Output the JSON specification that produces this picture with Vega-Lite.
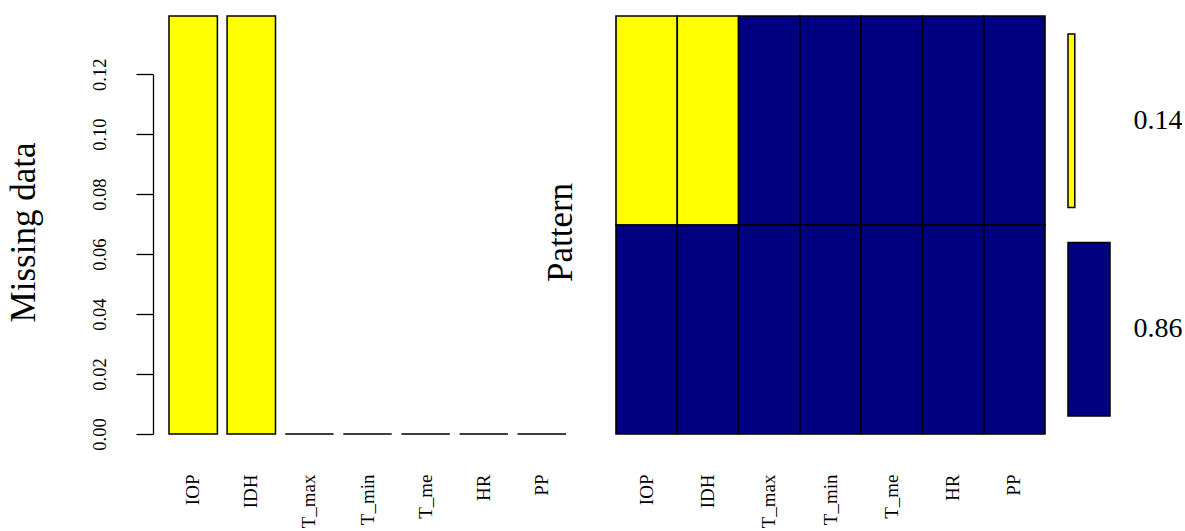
{
  "$schema": "https://vega.github.io/schema/vega-lite/v6.json",
  "padding": {"left": 5, "top": 15, "right": 0, "bottom": 0},
  "background": "white",
  "config": {
    "view": {"stroke": null},
    "axis": {
      "labelFont": "Liberation Serif",
      "titleFont": "Liberation Serif",
      "labelColor": "black",
      "titleColor": "black",
      "titleFontWeight": "normal",
      "domainColor": "black",
      "tickColor": "black",
      "grid": false
    }
  },
  "datasets": {
    "missing": [
      {"variable": "IOP", "proportion": 0.1394},
      {"variable": "IDH", "proportion": 0.1394},
      {"variable": "T_max", "proportion": 0},
      {"variable": "T_min", "proportion": 0},
      {"variable": "T_me", "proportion": 0},
      {"variable": "HR", "proportion": 0},
      {"variable": "PP", "proportion": 0}
    ],
    "pattern": [
      {"pattern": "0.14", "variable": "IOP", "status": "missing"},
      {"pattern": "0.14", "variable": "IDH", "status": "missing"},
      {"pattern": "0.14", "variable": "T_max", "status": "observed"},
      {"pattern": "0.14", "variable": "T_min", "status": "observed"},
      {"pattern": "0.14", "variable": "T_me", "status": "observed"},
      {"pattern": "0.14", "variable": "HR", "status": "observed"},
      {"pattern": "0.14", "variable": "PP", "status": "observed"},
      {"pattern": "0.86", "variable": "IOP", "status": "observed"},
      {"pattern": "0.86", "variable": "IDH", "status": "observed"},
      {"pattern": "0.86", "variable": "T_max", "status": "observed"},
      {"pattern": "0.86", "variable": "T_min", "status": "observed"},
      {"pattern": "0.86", "variable": "T_me", "status": "observed"},
      {"pattern": "0.86", "variable": "HR", "status": "observed"},
      {"pattern": "0.86", "variable": "PP", "status": "observed"}
    ],
    "combos": [
      {"pattern": "0.14", "proportion": 0.1394, "status": "missing"},
      {"pattern": "0.86", "proportion": 0.8606, "status": "observed"}
    ]
  },
  "bounds": "flush",
  "spacing": 34,
  "hconcat": [
    {
      "width": 429,
      "height": 418,
      "data": {"name": "missing"},
      "mark": {"type": "bar", "fill": "#FFFF00", "stroke": "black", "strokeWidth": 1.5},
      "encoding": {
        "x": {
          "field": "variable", "type": "nominal",
          "sort": ["IOP", "IDH", "T_max", "T_min", "T_me", "HR", "PP"],
          "scale": {"paddingInner": 0.1667, "paddingOuter": 0.275},
          "axis": {"title": null, "labelAngle": -90, "labelFontSize": 19, "domain": false, "ticks": false, "labelPadding": 40}
        },
        "y": {
          "field": "proportion", "type": "quantitative",
          "scale": {"domain": [0, 0.12], "range": [418, 58.2], "nice": false, "zero": false},
          "axis": {
            "title": "Missing data", "titleFontSize": 35, "titlePadding": 49, "titleY": 216,
            "values": [0, 0.02, 0.04, 0.06, 0.08, 0.1, 0.12], "format": ".2f",
            "labelAngle": -90, "labelAlign": "center", "labelBaseline": "alphabetic",
            "labelFontSize": 18.5, "labelPadding": 31, "tickSize": 17, "tickWidth": 1.3, "domainWidth": 1.3
          }
        }
      }
    },
    {
      "bounds": "flush",
      "spacing": 23,
      "hconcat": [
        {
          "width": 429,
          "height": 418,
          "data": {"name": "pattern"},
          "mark": {"type": "rect", "stroke": "black", "strokeWidth": 1.6},
          "encoding": {
            "x": {
              "field": "variable", "type": "nominal",
              "sort": ["IOP", "IDH", "T_max", "T_min", "T_me", "HR", "PP"],
              "axis": {"title": null, "labelAngle": -90, "labelFontSize": 19, "domain": false, "ticks": false, "labelPadding": 40}
            },
            "y": {
              "field": "pattern", "type": "nominal", "sort": ["0.14", "0.86"],
              "axis": {"title": "Pattern", "titleFontSize": 35, "titleY": 216, "labels": false, "ticks": false, "domain": false, "titlePadding": 38}
            },
            "color": {
              "field": "status", "type": "nominal",
              "scale": {"domain": ["missing", "observed"], "range": ["#FFFF00", "#000080"]},
              "legend": null
            }
          }
        },
        {
          "width": 42,
          "height": 418,
          "data": {"name": "combos"},
          "mark": {"type": "bar", "stroke": "black", "strokeWidth": 1.5},
          "encoding": {
            "y": {
              "field": "pattern", "type": "nominal", "sort": ["0.14", "0.86"],
              "scale": {"paddingInner": 0.167, "paddingOuter": 0.086},
              "axis": {"orient": "right", "title": null, "ticks": false, "domain": false, "labelAngle": 0, "labelFontSize": 28, "labelPadding": 23}
            },
            "x": {
              "field": "proportion", "type": "quantitative",
              "scale": {"domain": [0, 0.8606], "nice": false},
              "axis": null
            },
            "color": {
              "field": "status", "type": "nominal",
              "scale": {"domain": ["missing", "observed"], "range": ["#FFFF00", "#000080"]},
              "legend": null
            }
          }
        }
      ]
    }
  ]
}
